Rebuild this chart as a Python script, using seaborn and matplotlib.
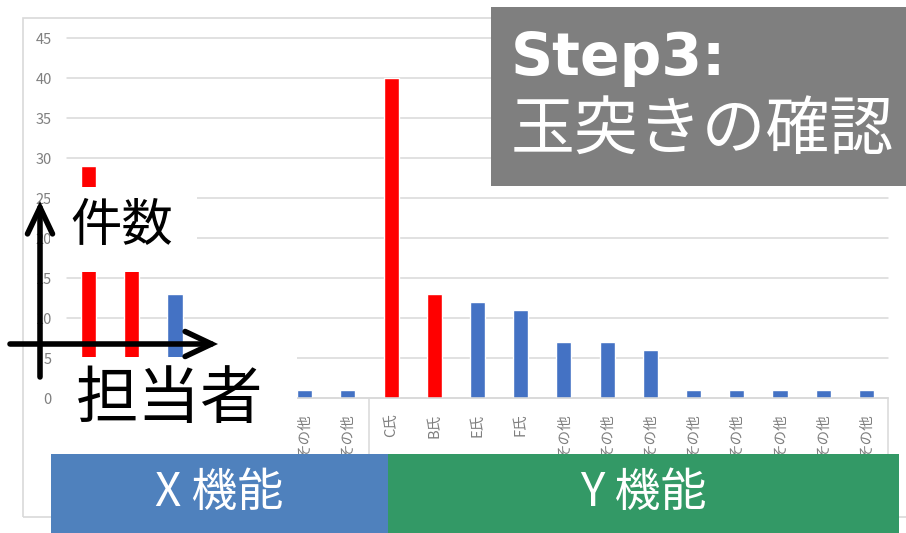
import numpy as np
import pandas as pd
import matplotlib
matplotlib.use("Agg")
import matplotlib.pyplot as plt
import seaborn as sns
from matplotlib.patches import Rectangle, FancyArrowPatch, ArrowStyle

# ---- data -------------------------------------------------------------
x_group_labels = ["C氏", "B氏", "A氏", "その他", "その他", "その他", "その他"]
x_group_counts = [29, 16, 13, 1, 1, 1, 1]
x_group_moved = [True, True, False, False, False, False, False]

y_group_labels = ["C氏", "B氏", "E氏", "F氏"] + ["その他"] * 8
y_group_counts = [40, 13, 12, 11, 7, 7, 6, 1, 1, 1, 1, 1]
y_group_moved = [True, True] + [False] * 10

group_names = ["X 機能", "Y 機能"]
y_tick_values = [0, 5, 10, 15, 20, 25, 30, 35, 40, 45]
title_lines = ["Step3:", "玉突きの確認"]
axis_words = ["件数", "担当者"]

# ---- styling ----------------------------------------------------------
sns.set_theme(style="white")
plt.rcParams["font.family"] = ["Noto Sans CJK JP", "DejaVu Sans"]

W, H = 906, 533
fig = plt.figure(figsize=(W / 100, H / 100), dpi=100)
fig.patch.set_facecolor("white")


def fx(px):
    return px / W


def fy(py):
    return 1 - py / H


labels = x_group_labels + y_group_labels
counts = x_group_counts + y_group_counts
moved = x_group_moved + y_group_moved
n_x = len(x_group_labels)
slots = [str(i) for i in range(len(labels))]

df = pd.DataFrame({
    "slot": slots,
    "count": counts,
    "mark": ["hi" if m else "lo" for m in moved],
})

ax = fig.add_axes([fx(67), fy(398), (888 - 67) / W, (398 - 38) / H])
sns.barplot(data=df, x="slot", y="count", hue="mark", order=slots,
            hue_order=["hi", "lo"],
            palette={"hi": "#FF0000", "lo": "#4472C4"},
            dodge=False, width=0.35, saturation=1, legend=False, ax=ax)

ax.set_xlim(-0.5, len(labels) - 0.5)
ax.set_ylim(0, 45)
ax.set_yticks(y_tick_values)
ax.set_yticklabels([str(v) for v in y_tick_values])
ax.set_xticks(range(len(labels)))
ax.set_xticklabels(labels, rotation=90, ha="center", va="top")
ax.set_xlabel("")
ax.set_ylabel("")
ax.yaxis.grid(True, color="#d9d9d9", lw=1.1)
ax.set_axisbelow(True)
for side in ["left", "right", "top"]:
    ax.spines[side].set_visible(False)
ax.spines["bottom"].set_color("#d9d9d9")
ax.spines["bottom"].set_linewidth(1.1)
ax.tick_params(axis="y", length=0, pad=11, labelsize=10.5, labelcolor="#7f7f7f")
ax.tick_params(axis="x", length=0, pad=11, labelsize=10.5, labelcolor="#7f7f7f")
for gl in ax.get_ygridlines():
    gl.set_clip_on(False)

# the first few category names sit under the "担当者" note panel
for lbl in ax.get_xticklabels()[:5]:
    lbl.set_visible(False)

# group separators on the category axis
for b in [n_x - 0.5, len(labels) - 0.5]:
    ax.plot([b, b], [0, -7], color="#d9d9d9", lw=1.1, clip_on=False)

# chart frame
fig.add_artist(Rectangle((fx(23), fy(517)), (930 - 23) / W, (517 - 18) / H,
                         transform=fig.transFigure, fill=False,
                         edgecolor="#d9d9d9", lw=1.2, zorder=1))

# white panels behind the axis notes
fig.add_artist(Rectangle((fx(50), fy(272)), (197 - 50) / W, (272 - 187) / H,
                         transform=fig.transFigure, facecolor="white",
                         edgecolor="none", zorder=2))
fig.add_artist(Rectangle((fx(55), fy(456)), (297 - 55) / W, (456 - 357) / H,
                         transform=fig.transFigure, facecolor="white",
                         edgecolor="none", zorder=2))

# axis arrows
arrow_style = ArrowStyle("->", head_length=19, head_width=9)
fig.add_artist(FancyArrowPatch((fx(40), fy(377)), (fx(40), fy(201)),
                               transform=fig.transFigure, arrowstyle=arrow_style,
                               mutation_scale=1, lw=4, color="black",
                               shrinkA=0, shrinkB=0, zorder=4,
                               capstyle="round", joinstyle="miter"))
fig.add_artist(FancyArrowPatch((fx(10), fy(344)), (fx(218), fy(344)),
                               transform=fig.transFigure, arrowstyle=arrow_style,
                               mutation_scale=1, lw=4, color="black",
                               shrinkA=0, shrinkB=0, zorder=4,
                               capstyle="round", joinstyle="miter"))

fig.text(fx(122), fy(226), axis_words[0], fontsize=37, color="black",
         ha="center", va="center", zorder=5)
fig.text(fx(170), fy(400), axis_words[1], fontsize=45, color="black",
         ha="center", va="center", zorder=5)

# title box
fig.add_artist(Rectangle((fx(491), fy(186)), (W - 491 + 5) / W, (186 - 7) / H,
                         transform=fig.transFigure, facecolor="#7f7f7f",
                         edgecolor="none", zorder=2))
fig.text(fx(511), fy(75), title_lines[0], fontsize=42, fontweight="bold",
         color="white", ha="left", va="baseline", zorder=5,
         family=["DejaVu Sans"])
fig.text(fx(702), fy(131), title_lines[1], fontsize=46, color="white",
         ha="center", va="center", zorder=5)

# function banners
banner_spans = [(51, 388, "#4F81BD"), (388, 899, "#339966")]
for (x0, x1, col), name in zip(banner_spans, group_names):
    fig.add_artist(Rectangle((fx(x0), 0), (x1 - x0) / W, (H - 454) / H,
                             transform=fig.transFigure, facecolor=col,
                             edgecolor="none", zorder=2))
    fig.text(fx((x0 + x1) / 2), fy(493), name, fontsize=33, color="white",
             ha="center", va="center", zorder=5)

fig.savefig("out.png", dpi=100, facecolor="white")
